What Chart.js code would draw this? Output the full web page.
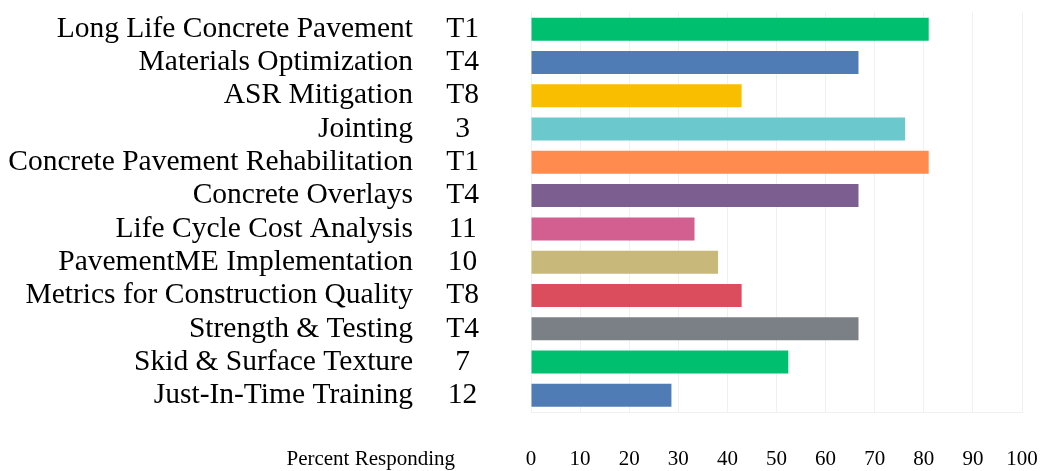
<!DOCTYPE html>
<html>
<head>
<meta charset="utf-8">
<script src="https://cdn.jsdelivr.net/npm/chart.js@4"></script>
<style>
    html, body { margin: 0; padding: 0; background: #fff; }
    #wrap { width: 1044px; height: 471px; position: relative; }
</style>
</head>
<body>
<div id="wrap"><canvas id="topics-chart"></canvas></div>
<script>
// ------------------------
// DATA
// ------------------------

const topics = [
    "Long Life Concrete Pavement",
    "Materials Optimization",
    "ASR Mitigation",
    "Jointing",
    "Concrete Pavement Rehabilitation",
    "Concrete Overlays",
    "Life Cycle Cost Analysis",
    "PavementME Implementation",
    "Metrics for Construction Quality",
    "Strength & Testing",
    "Skid & Surface Texture",
    "Just-In-Time Training"
];

const ranks = ["T1", "T4", "T8", "3", "T1", "T4", "11", "10", "T8", "T4", "7", "12"];

// percent responding (n = 21)
const percents = [81.0, 66.7, 42.9, 76.2, 81.0, 66.7, 33.3, 38.1, 42.9, 66.7, 52.4, 28.6];

const barColors = [
    "#00BF6F", "#507CB6", "#F9BE00", "#6BC8CD", "#FF8B4F", "#7D5E90",
    "#D25F90", "#C8B87A", "#DB4D5C", "#7A8086", "#00BF6F", "#507CB6"
];

const axisTitle = "Percent Responding";
const xMin = 0, xMax = 100, xStep = 10;

// ------------------------
// CHART
// ------------------------

const serif = "'Liberation Serif', 'Times New Roman', serif";

// draws the axis title to the left of the tick row
const axisTitlePlugin = {
    id: "axisTitleLeft",
    afterDraw(chart) {
        const xs = chart.scales.x;
        const ctx = chart.ctx;
        ctx.save();
        ctx.font = "21px " + serif;
        ctx.fillStyle = "#000";
        ctx.textAlign = "right";
        ctx.textBaseline = "middle";
        ctx.fillText(axisTitle, 455, xs.top + 35 + 12.6);
        ctx.restore();
    }
};

// keep the big tick paddings from eating into the chart area
function noEdgePadding(scale) {
    scale.paddingTop = 0;
    scale.paddingBottom = 0;
    scale.paddingLeft = 0;
    scale.paddingRight = 0;
}

new Chart(document.getElementById("topics-chart"), {
    type: "bar",
    data: {
        labels: topics,
        datasets: [{
            data: percents,
            backgroundColor: barColors,
            borderWidth: 0,
            categoryPercentage: 1,
            barPercentage: 0.69
        }]
    },
    options: {
        indexAxis: "y",
        responsive: true,
        maintainAspectRatio: false,
        animation: false,
        layout: { padding: { top: 12.5, right: 22, bottom: 0, left: 0 } },
        plugins: {
            legend: { display: false },
            tooltip: { enabled: false }
        },
        scales: {
            x: {
                type: "linear",
                min: xMin,
                max: xMax,
                ticks: {
                    stepSize: xStep,
                    color: "#000",
                    padding: 35,
                    font: { family: serif, size: 21 }
                },
                grid: { color: "#f0f0f0", drawTicks: false },
                border: { color: "#f0f0f0" },
                afterFit(scale) { scale.height = 59; noEdgePadding(scale); }
            },
            y: {
                position: "left",
                weight: 1,
                offset: true,
                ticks: {
                    autoSkip: false,
                    color: "#000",
                    padding: 8,
                    font: { family: serif, size: 29.5, lineHeight: 1 }
                },
                grid: { display: false, drawTicks: false },
                border: { display: false },
                afterFit(scale) { scale.width = 421; noEdgePadding(scale); }
            },
            ranks: {
                type: "category",
                labels: ranks,
                position: "left",
                weight: 0,
                offset: true,
                ticks: {
                    autoSkip: false,
                    crossAlign: "center",
                    color: "#000",
                    padding: 52,
                    font: { family: serif, size: 29.5, lineHeight: 1 }
                },
                grid: { display: false, drawTicks: false },
                border: { color: "#f0f0f0" },
                afterFit(scale) { scale.width = 110; noEdgePadding(scale); }
            }
        }
    },
    plugins: [axisTitlePlugin]
});
</script>
</body>
</html>
